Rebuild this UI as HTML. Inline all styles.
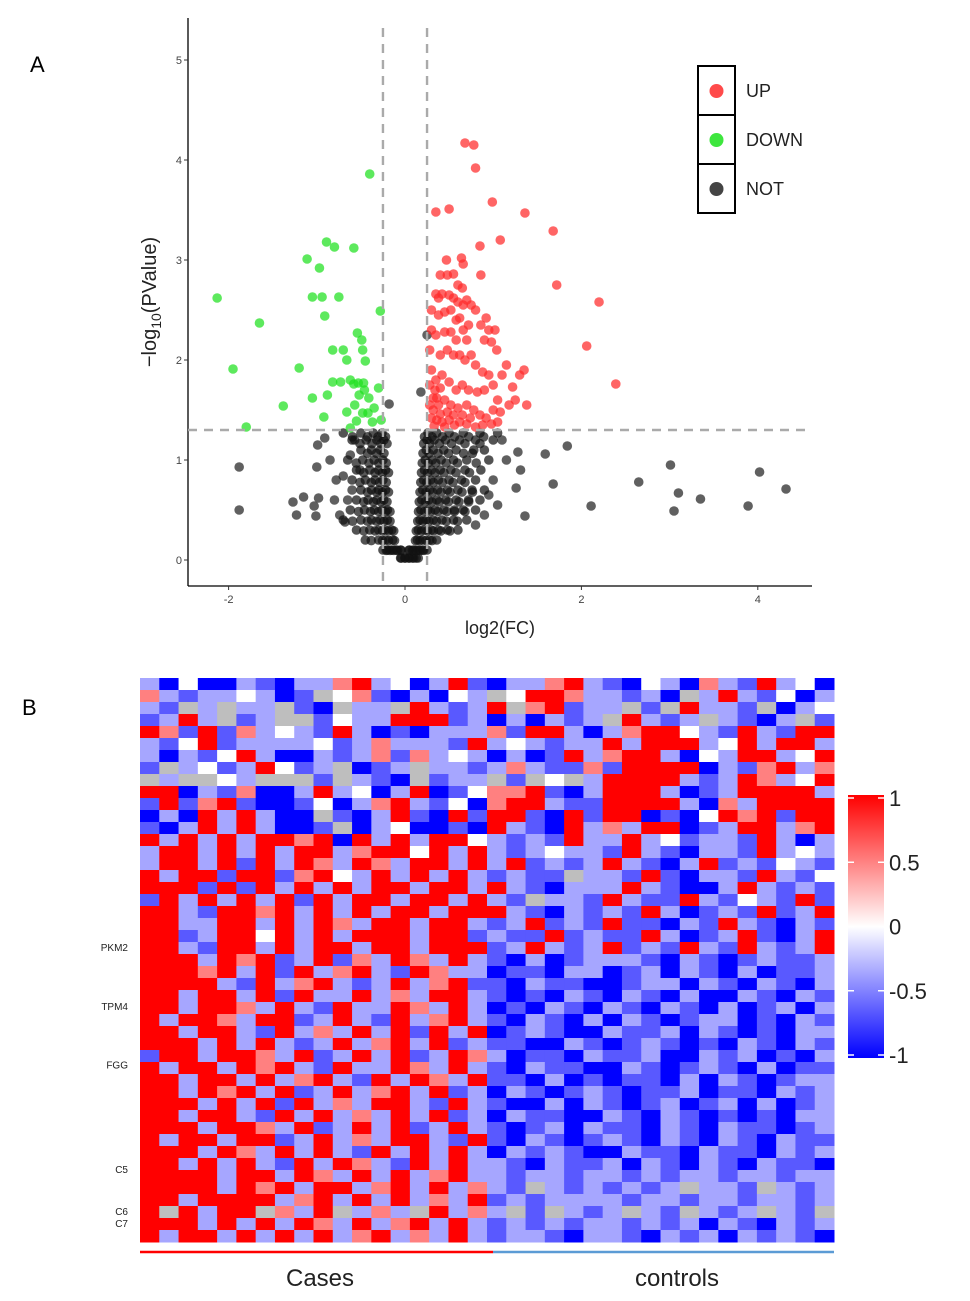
<!DOCTYPE html>
<html><head><meta charset="utf-8"><style>
html,body{margin:0;padding:0;background:#fff;}
svg{display:block;font-family:"Liberation Sans",Arial,sans-serif;}
</style></head><body>
<svg id="fig" width="970" height="1301" viewBox="0 0 970 1301" xmlns="http://www.w3.org/2000/svg">
<rect width="970" height="1301" fill="#fff"/>
<text x="30" y="72" font-size="22">A</text>
<text x="22" y="715" font-size="22">B</text>
<g id="volcano"></g>
<g id="heat"></g>
</svg>
<script>
// ---------- Volcano data ----------
const xTicks = [-2, 0, 2, 4];
const yTicks = [0, 1, 2, 3, 4, 5];
const upPts = [[0.68,4.17],[0.78,4.15],[0.80,3.92],[0.99,3.58],[0.35,3.48],[0.50,3.51],[1.36,3.47],[1.68,3.29],[1.08,3.20],[0.85,3.14],[1.72,2.75],[2.20,2.58],[2.06,2.14],[2.39,1.76],[0.86,2.85],[0.64,3.02],[0.66,2.96],[0.47,3.0],
[0.40,2.85],[0.48,2.85],[0.55,2.86],[0.60,2.75],[0.65,2.72],[0.70,2.60],[0.75,2.55],[0.80,2.50],[0.92,2.42],[0.35,2.66],[0.42,2.66],[0.50,2.65],[0.55,2.62],[0.60,2.58],[0.66,2.55],[0.72,2.35],[0.86,2.35],[0.95,2.30],[1.02,2.30],[0.98,2.18],[0.90,2.20],[1.04,2.10],[0.30,2.50],[0.38,2.45],[0.45,2.48],[0.52,2.50],[0.58,2.40],[0.62,2.42],[0.66,2.30],[0.70,2.20],[0.58,2.20],[0.52,2.28],[0.45,2.28],[0.35,2.25],[0.40,2.05],[0.48,2.10],[0.55,2.05],[0.62,2.05],[0.68,2.00],[0.75,2.05],[0.80,1.95],[0.88,1.88],[0.95,1.85],[1.10,1.85],[1.15,1.95],[1.30,1.85],[1.35,1.90],[0.30,1.90],[0.35,1.80],[0.42,1.85],[0.50,1.78],[0.58,1.70],[0.65,1.75],[0.72,1.70],[0.82,1.68],[0.90,1.70],[1.00,1.75],[1.05,1.60],[1.18,1.55],[1.25,1.60],[1.38,1.55],[0.32,1.62],[0.38,1.55],[0.45,1.60],[0.52,1.55],[0.60,1.52],[0.70,1.55],[0.78,1.50],[0.85,1.45],[0.92,1.42],[1.00,1.50],[1.08,1.48],[0.30,1.42],[0.36,1.40],[0.42,1.38],[0.50,1.40],[0.56,1.35],[0.62,1.38],[0.70,1.36],[0.80,1.33],[0.88,1.35],[0.98,1.36],[1.05,1.38],[0.33,1.34],[0.45,1.33],[0.28,1.55],[0.28,1.75],[0.34,1.70],[0.40,1.72],[1.22,1.73],[0.28,2.10],[0.30,2.30],[0.38,2.62],[0.65,1.45],[0.74,1.42],[0.32,1.50],[0.36,1.62],[0.40,1.46],[0.48,1.48],[0.55,1.45]];
const downPts = [[-2.13,2.62],[-1.95,1.91],[-1.65,2.37],[-1.80,1.33],[-1.38,1.54],[-1.20,1.92],[-1.11,3.01],[-1.05,2.63],[-0.94,2.63],[-0.89,3.18],[-0.80,3.13],[-0.97,2.92],[-0.91,2.44],[-0.75,2.63],[-0.58,3.12],[-0.40,3.86],[-0.28,2.49],[-0.54,2.27],[-0.49,2.20],[-0.48,2.10],[-0.45,1.99],[-0.66,2.00],[-0.70,2.10],[-0.82,2.10],[-0.82,1.78],[-0.73,1.78],[-0.62,1.80],[-0.58,1.76],[-0.53,1.77],[-0.47,1.77],[-0.46,1.70],[-0.52,1.65],[-0.57,1.55],[-0.48,1.47],[-0.42,1.47],[-0.35,1.52],[-0.27,1.40],[-0.37,1.38],[-0.66,1.48],[-0.88,1.65],[-0.92,1.43],[-1.05,1.62],[-0.62,1.32],[-0.55,1.39],[-0.41,1.62],[-0.30,1.72]];
const notPts = [[-1.88,0.93],[-1.88,0.50],[3.01,0.95],[4.02,0.88],[4.32,0.71],[3.10,0.67],[3.35,0.61],[2.65,0.78],[3.89,0.54],[3.05,0.49],[2.11,0.54],[1.84,1.14],[1.59,1.06],[1.68,0.76],[1.36,0.44],[1.28,1.08],[1.26,0.72],[1.31,0.90],[-0.18,1.56],[0.25,2.25],[0.18,1.68],
[-1.27,0.58],[-1.15,0.63],[-1.23,0.45],[-1.01,0.44],[-1.03,0.54],[-0.98,0.62],[-0.99,1.15],[-0.91,1.22],[-1.00,0.93],[-0.85,1.00],[-0.78,0.80],[-0.74,0.45],[-0.68,0.38],[-0.70,0.84],[-0.62,1.05],[-0.60,0.70],[-0.51,0.90],[-0.80,0.60],[-0.57,1.20],[-0.65,0.60],[1.1,1.2],[1.15,1.0],[1.0,0.8],[0.95,0.65],[1.05,0.55],[0.9,0.45],[0.8,0.35]];
const notCoreY = [0.02,0.1,0.2,0.3,0.4,0.5,0.6,0.7,0.8,0.9,1.0,1.1,1.2,1.27];
const notCoreX = [
[-0.05,0,0.05,0.1,0.15],
[-0.2,-0.15,-0.1,-0.05,0.05,0.1,0.15,0.2,-0.25,0.25],
[-0.3,-0.22,-0.14,0.14,0.2,0.28,0.36,-0.45],
[-0.55,-0.4,-0.3,-0.22,-0.15,0.15,0.22,0.3,0.38,0.48,0.6],
[-0.7,-0.5,-0.38,-0.28,-0.2,0.17,0.24,0.32,0.42,0.55,0.7],
[-0.62,-0.46,-0.35,-0.26,-0.2,0.18,0.26,0.34,0.44,0.56,0.66,0.8],
[-0.55,-0.42,-0.32,-0.24,0.19,0.27,0.36,0.46,0.58,0.72,0.85],
[-0.5,-0.38,-0.3,-0.22,0.2,0.28,0.37,0.48,0.6,0.76,0.9],
[-0.6,-0.45,-0.34,-0.25,0.21,0.29,0.38,0.5,0.64,0.8],
[-0.55,-0.4,-0.3,-0.22,0.22,0.3,0.4,0.52,0.68,0.86],
[-0.65,-0.48,-0.35,-0.25,0.23,0.31,0.41,0.55,0.7,0.95],
[-0.5,-0.38,-0.28,0.24,0.32,0.44,0.58,0.78,0.9],
[-0.6,-0.44,-0.32,-0.24,0.25,0.33,0.46,0.62,0.8,1.0],
[-0.7,-0.5,-0.36,-0.26,0.26,0.36,0.5,0.66,0.85,1.05]];
const fcCut = 0.25, pCut = 1.3;
const legendLabels = ["UP","DOWN","NOT"];

// ---------- Heatmap data ----------
const heatRows = [
"lBwBBlbBllrRlwBlRbBllrRlbBwlBrlbRlwB","rlbllwlBbgwrbBlBwlgwRRrllblBglRlbwBl","lbglgllgbBgllgRlblRgrRbllgbgRllbgBlw","blRlgblggbwllRRRblBlBlblgRlblglbBlgb",
"RrbRbrlwlbRlBbBlllrbRRlBlrRRwlbRlbRR","lbwRbllllwblrlllbRlwlbllRlRRRlwRlRRl","lBlbwRlBBlblrbrlwlBlBbRlrRRlBwlRRlwR","bglwblRwblgBblgllblrlbbrbRRRRBlbrRlr",
"glggwlgggbglbBgbllgbgwglRRRRlblRrlwR","RRBlbrBBlRlwBlRBbwrrRbBlRRRlBblRRRRl","bRbrRbBBbwBlrRlbwBrRRlbbRRRRlBrlRRRR","BlBRlRlBBgbBlRbBRbRRbBRbRRBbBwRrRbRR",
"bBlRlRlBBbgBlwBBbBRlbBRlrlRRBblRRlrR","RlRlRlRRrRBRlRlRRwlblbRllRlwbllbRlBl","lRRlRlRlRRlrRRwRlRlblwllbRlbBllbRlwl","lRRlRbRlRrlRrlRRlRlRblblRlbBlRblbwlb",
"RlRRbRRbrRwlRlRlRlblbbgllbRbBllbRlbw","RRRbRbRlRlRlRRlRRlRlbBlllRlbBBlRlblb","bRlRlRlRbRlRRlRRlRlbgllbRlbbRlbwlbRb","RRlbRRrRlRlRlRRlRRRlbBlblbRlBblbRblR",
"RRllRRlRlRrlRRlRRlblRblbRbbBlbRlbBlb","RRblRRwRlRlRRRlRRblbbRblbbRlBblRbBlR","RRlbRRlRlRRlRRlRRRblRlblRblbRlbRlblR","RRRlRrRblRbrlRrlRlbBlBblllbBlbBblbbl",
"RRRrRlRbRlrRlbRrllBbbBllBblBlbBlBbbl","RRRRlbRlrRlblRlrRbbBlbbBBbllBlbBlbBl","RRlRRlRbRllRlrlRRlbBbBlbBlbBlBBlbBlb","RRlRRrlRlbRllRrlRlBbBlbBlbBlbBlBblBl",
"RlRRrlRRblRlbRlrRlbBlbBlBlbBbllBbBlb","RRlRRlbRlrlRlRbRlRBblbBBlbblBlbBbBll","RRRlRlRlblRlrRlRblbbBBlbBblbBbBlbBlb","bRRlRRrlRblRlRblRrlBbbBlbblBBlblBbBl",
"RlRRlRrRlbRllRrlRlbBlbbBBlbBblbBlBbb","RRlRRlRlrRlbRlRrlRbbBlBbBbbBlBlbBbll","RRlRrRlRblRlrRlRblBlbBblbBbblBbbBlbl","RRRlRlRbRlrlRRlbRlbBBlBlbBblBblBlBbl",
"RRlRRlbRlRlrlRlRblBlbbBBlbBlbBbBbBll","RRRlRRrlRblRlRblRlbBblBlbbBlbBlbbBbl","RlRRlRRblRlrlRRlbRbBlbBblbBlbBlbBlbb","RRRlRrlRlRlbRlRlRlBlblbBBlbbBlbbBlbl",
"RRlRlRlbRlRrlbRlRllbBlbblBlbBlbBlbbB","RRRRlRRlRrlRlRlrRllbllbllblbllbllbll","RRRRlRrRlRRlrRlRlrlbglblblblgllbglbl","RRlRRRRlrRlRlRlrlRblbllllbllbllbllbl",
"RgRlRRgrlRglrlgRlrlgbglblglbglblglbg","RRRlRlRlRrlRlrRlRlblblbllblblBlbBlbl","RlRRlRlRlRlrRlrlRlbllbBllbBlblBlblbB"];
const codeValue = {R:1, r:0.5, w:0, l:-0.35, b:-0.65, B:-1, g:null};
const geneLabels = ["PKM2","TPM4","FGG","C5","C6","C7"];
const geneRows = [22.5, 27.4, 32.3, 41, 44.5, 45.5];
const colorTicks = [1, 0.5, 0, -0.5, -1];
const groupNames = ["Cases","controls"];
const groupSplit = 18;

const NS = "http://www.w3.org/2000/svg";
function mk(parent, tag, attrs, text) {
  const e = document.createElementNS(NS, tag);
  for (const k in attrs) e.setAttribute(k, attrs[k]);
  if (text !== undefined) e.textContent = text;
  parent.appendChild(e);
  return e;
}

// ---------- Volcano ----------
const V = document.getElementById('volcano');
const X0 = 188, X1 = 812, Y0 = 18, Y1 = 586;
const sx = v => 405 + v * 88.2;
const sy = v => 560 - v * 100;
let ax = mk(V, 'line', {x1:X0, y1:Y0, x2:X0, y2:Y1, stroke:'#000', 'stroke-width':1.3});


ax = mk(V, 'line', {x1:X0, y1:Y1, x2:X1, y2:Y1, stroke:'#000', 'stroke-width':1.3});


yTicks.forEach(t => {
  const l = mk(V, 'line', {x1:X0-4, x2:X0, y1:sy(t), y2:sy(t), stroke:'#333'});
  
  
  const tx = mk(V, 'text', {x:X0-6, y:sy(t)+4, 'font-size':11, fill:'#444', 'text-anchor':'end'}, String(t));
  
  
});
xTicks.forEach(t => {
  const l = mk(V, 'line', {x1:sx(t), x2:sx(t), y1:Y1, y2:Y1+4, stroke:'#333'});
  
  
  const tx = mk(V, 'text', {x:sx(t), y:Y1+17, 'font-size':11, fill:'#444', 'text-anchor':'middle'}, String(t));
  
  
});
let xl = mk(V, 'text', {x:500, y:634, 'font-size':18, 'text-anchor':'middle', fill:'#222'}, 'log2(FC)');


let yl = mk(V, 'text', {transform:'translate(156,302) rotate(-90)', 'font-size':20, 'text-anchor':'middle', fill:'#222'});


mk(yl, 'tspan', {}, '\u2212log');
mk(yl, 'tspan', {'font-size':14, dy:5}, '10');
mk(yl, 'tspan', {dy:-5}, '(PValue)');
function dots(pts, color, name) {
  pts.forEach(p => {
    const c = mk(V, 'circle', {cx:sx(p[0]), cy:sy(p[1]), r:4.8, fill:color, 'fill-opacity':0.72});
    
    
  });
}
const corePts = [];
notCoreY.forEach((y, i) => notCoreX[i].forEach(x => corePts.push([x, y])));
dots(notPts, '#222', 'point-not');
dots(corePts, '#111', 'point-not');
corePts.forEach(p => {
  const c = mk(V, 'circle', {cx:sx(p[0]*0.85), cy:sy(p[1]*0.97), r:4.8, fill:'#111', 'fill-opacity':0.7});
  
  
});
dots(downPts, '#1ee01e', 'point-down');
dots(upPts, '#ff2a2a', 'point-up');
[-fcCut, fcCut].forEach(v => {
  const l = mk(V, 'line', {x1:sx(v), x2:sx(v), y1:28, y2:Y1, stroke:'#aaa', 'stroke-width':2.4, 'stroke-dasharray':'9,7'});
  
  
});
let hl = mk(V, 'line', {x1:X0, x2:X1, y1:sy(pCut), y2:sy(pCut), stroke:'#aaa', 'stroke-width':2.4, 'stroke-dasharray':'9,7'});


const legColors = ['#ff4a4a', '#3ee63e', '#444'];
legendLabels.forEach((lab, i) => {
  const y = 66 + i * 49;
  const b = mk(V, 'rect', {x:698, y:y, width:37, height:49, fill:'#fff', stroke:'#000', 'stroke-width':2});
  
  
  const c = mk(V, 'circle', {cx:716.5, cy:y+25, r:7, fill:legColors[i]});
  
  
  const t = mk(V, 'text', {x:746, y:y+31, 'font-size':18, fill:'#222'}, lab);
  
  
});

// ---------- Heatmap ----------
const H = document.getElementById('heat');
const HX0 = 140, HX1 = 834, HY0 = 678, HY1 = 1242;
const nCols = 36, nRows = heatRows.length;
const cw = (HX1 - HX0) / nCols, ch = (HY1 - HY0) / nRows;
function lerp(a, b, t) { return Math.round(a + (b - a) * t); }
function valColor(v) {
  if (v === null) return '#bebebe';
  if (v >= 0) return `rgb(255,${lerp(255,0,v)},${lerp(255,0,v)})`;
  const t = -v;
  return `rgb(${lerp(255,0,t)},${lerp(255,0,t)},255)`;
}
heatRows.forEach((rowStr, r) => {
  const s = rowStr.replace(/\s/g, '');
  for (let c = 0; c < nCols; c++) {
    const code = s[c] || 'l';
    const v = codeValue[code];
    const cell = mk(H, 'rect', {x:HX0 + c*cw, y:HY0 + r*ch, width:cw+0.5, height:ch+0.5, fill:valColor(v)});
    
    
  }
});
geneLabels.forEach((g, i) => {
  const t = mk(H, 'text', {x:128, y:HY0 + geneRows[i]*ch + 3, 'font-size':10, 'text-anchor':'end', fill:'#222'}, g);
  
  
});
const defs = mk(H, 'defs', {});
const grad = mk(defs, 'linearGradient', {id:'cb', x1:0, y1:0, x2:0, y2:1});
mk(grad, 'stop', {offset:'0', 'stop-color':'#ff0000'});
mk(grad, 'stop', {offset:'0.5', 'stop-color':'#ffffff'});
mk(grad, 'stop', {offset:'1', 'stop-color':'#0000ff'});
const CB0 = 795, CB1 = 1058;
const cby = v => CB0 + 3 + (1 - v) / 2 * (CB1 - CB0 - 6);
const cb = mk(H, 'rect', {x:848, y:CB0, width:36, height:CB1-CB0, fill:'url(#cb)'});


colorTicks.forEach(v => {
  const l1 = mk(H, 'line', {x1:848, x2:854, y1:cby(v), y2:cby(v), stroke:'#fff', 'stroke-width':1.5});
  
  
  const l2 = mk(H, 'line', {x1:878, x2:884, y1:cby(v), y2:cby(v), stroke:'#fff', 'stroke-width':1.5});
  
  
  const t = mk(H, 'text', {x:889, y:cby(v)+8, 'font-size':22, fill:'#222'}, String(v));
  
  
});
const splitX = HX0 + groupSplit * cw + 6;
const g1 = mk(H, 'line', {x1:HX0, x2:splitX, y1:1252, y2:1252, stroke:'#ff0000', 'stroke-width':2.5});


const g2 = mk(H, 'line', {x1:splitX, x2:HX1, y1:1252, y2:1252, stroke:'#5b9bd5', 'stroke-width':2.5});


const t1 = mk(H, 'text', {x:320, y:1286, 'font-size':24, 'text-anchor':'middle', fill:'#222'}, groupNames[0]);


const t2 = mk(H, 'text', {x:677, y:1286, 'font-size':24, 'text-anchor':'middle', fill:'#222'}, groupNames[1]);


</script>
</body></html>
